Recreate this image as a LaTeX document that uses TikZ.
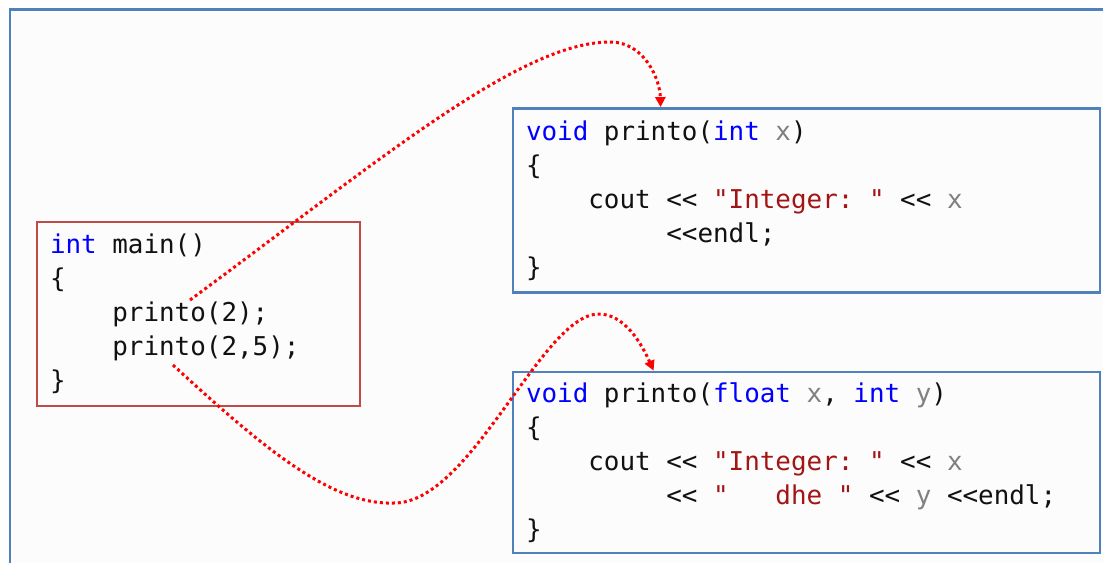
\documentclass[tikz,border=0pt]{standalone}
\usepackage{fontspec}
\setmonofont{DejaVu Sans Mono}
\usetikzlibrary{arrows.meta,calc}
\definecolor{frameblue}{HTML}{4F81BD}
\definecolor{boxred}{HTML}{BE4B48}
\definecolor{kw}{HTML}{0000FF}
\definecolor{strc}{HTML}{A31515}
\definecolor{parc}{HTML}{808080}
\definecolor{codetext}{HTML}{111111}
\newcommand\kwd[1]{\textcolor{kw}{#1}}
\newcommand\strl[1]{\textcolor{strc}{#1}}
\newcommand\prm[1]{\textcolor{parc}{#1}}
\newcommand\cind[1]{\mbox{}\phantom{#1}}
\newcommand\codefont{\ttfamily\fontsize{25.9}{34}\selectfont
  \fontdimen2\font=0.602em\fontdimen3\font=0pt\fontdimen4\font=0pt\relax}
\newcommand\fixsp{\spaceskip=0.602em\xspaceskip=0.602em\relax}
\tikzset{
  codebox/.style={line width=2.8pt, inner xsep=13pt, inner ysep=0pt, align=left,
    text=codetext, font=\codefont},
  callarrow/.style={red, line width=3pt, dash pattern=on 3pt off 3pt,
    -{Triangle[length=10pt,width=10pt]}}
}
\begin{document}
\begin{tikzpicture}[x=1pt,y=-1pt]
\useasboundingbox (0,0) rectangle (1103,563);
\fill[white] (0,0) rectangle (1103,563);
\fill[white!99!black] (10,9.5) rectangle (1103,563);
\draw[frameblue, line width=2.5pt] (10,563) -- (10,9.5) -- (1103,9.5);

\node[codebox, draw=boxred, minimum width=323pt, minimum height=184pt, text width=297pt]
  (main) at (198.5,314) {\fixsp\kwd{int} main()\\
\{\\
\cind{xxxx}printo(2);\\
\cind{xxxx}printo(2,5);\\
\}};

\node[codebox, draw=frameblue, minimum width=587pt, minimum height=184pt, text width=561pt]
  (fa) at (806.5,200.5) {\fixsp\kwd{void} printo(\kwd{int} \prm{x})\\
\{\\
\cind{xxxx}cout << \strl{"Integer:~"} << \prm{x}\\
\cind{xxxxxxxxx}<<endl;\\
\}};

\node[codebox, draw=frameblue, minimum width=587pt, minimum height=181pt, text width=561pt]
  (fb) at (806.5,462.5) {\fixsp\kwd{void} printo(\kwd{float} \prm{x}, \kwd{int} \prm{y})\\
\{\\
\cind{xxxx}cout << \strl{"Integer:~"} << \prm{x}\\
\cind{xxxxxxxxx}<< \strl{"~~~dhe~"} << \prm{y} <<endl;\\
\}};

\coordinate (s1) at (190,300);
\coordinate (s2) at (173,365);
\coordinate (e1) at ($(fa.north west)+(149,0)$);
\coordinate (e2) at ($(fb.north west)+(142,0)$);

\draw[callarrow] (s1) .. controls (380,160) and (520,42) .. (610,42)
  .. controls (645,42) and (660,80) .. (e1);
\draw[callarrow] (s2) .. controls (260,445) and (330,505) .. (393,503)
  .. controls (470,505) and (540,318) .. (597,314)
  .. controls (625,313) and (642,345) .. (e2);
\end{tikzpicture}
\end{document}
